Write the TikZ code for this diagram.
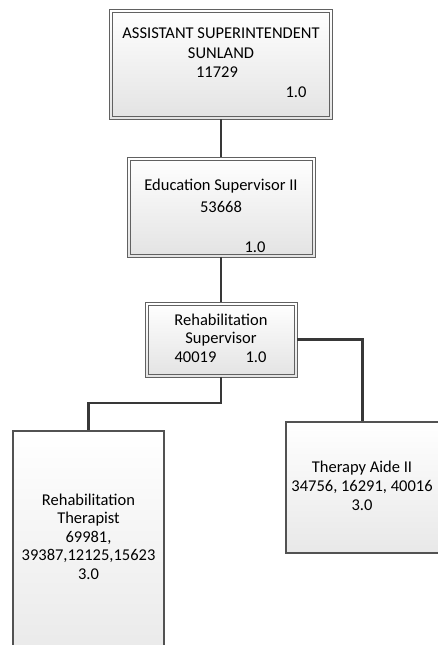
\documentclass[tikz,border=0pt]{standalone}
\usepackage{fontspec}
\setmainfont{Carlito}
\begin{document}
\begin{tikzpicture}[x=1pt,y=-1pt,
  boxfill/.style={top color=white, bottom color=black!11, draw=black!62, line width=0.9pt},
  innerline/.style={draw=black!62, line width=0.9pt},
  plainbox/.style={top color=white, bottom color=black!9, draw=black!68, line width=1.1pt},
  lbl/.style={anchor=base, inner sep=0pt, font=\fontsize{16.5}{19}\selectfont, text=black},
  wire/.style={draw=black!78, line width=2.4pt}]
\useasboundingbox (0,0) rectangle (437,645);

% box outlines (double frame for the upper three positions)
\node[boxfill, minimum width=223pt, minimum height=110pt, inner sep=0pt] (b1) at (221,64) {};
\draw[innerline] (112.5,12) rectangle (329.5,116);
\node[boxfill, minimum width=188pt, minimum height=100pt, inner sep=0pt] (b2) at (221,207) {};
\draw[innerline] (130,160) rectangle (312,254);
\node[boxfill, minimum width=152pt, minimum height=75pt, inner sep=0pt] (b3) at (221,339.5) {};
\draw[innerline] (148,305) rectangle (294,374);
\node[plainbox, minimum width=151pt, minimum height=240pt, inner sep=0pt] (b4) at (88.5,551) {};
\node[plainbox, minimum width=153pt, minimum height=131pt, inner sep=0pt] (b5) at (362.5,487.5) {};

% connectors
\coordinate (j1) at (221,403);
\coordinate (j2) at (88.5,403);
\draw[wire] (b1.south) -- (b2.north);
\draw[wire] (b2.south) -- (b3.north);
\draw[wire] (b3.south) -- (j1) -- (j2) -- (b4.north);
\draw[wire] (b3.east) -| (b5.north);

% texts
\node[lbl] (t1a) at (221,38) {ASSISTANT SUPERINTENDENT};
\node[lbl] (t1b) at (221,58) {SUNLAND};
\node[lbl] (t1c) at (217,77) {11729};
\node[lbl] (t1d) at (296,97) {1.0};

\node[lbl] (t2a) at (221,190) {Education Supervisor II};
\node[lbl] (t2b) at (221,212.5) {53668};
\node[lbl] (t2c) at (255,252.5) {1.0};

\node[lbl] (t3a) at (221,325) {Rehabilitation};
\node[lbl] (t3b) at (221,343.5) {Supervisor};
\node[lbl] (t3c) at (195.5,362.5) {40019};
\node[lbl] (t3d) at (256,362.5) {1.0};

\node[lbl] (t4a) at (88.5,505) {Rehabilitation};
\node[lbl] (t4b) at (88.5,523.5) {Therapist};
\node[lbl] (t4c) at (88.5,542) {69981,};
\node[lbl] (t4d) at (88.5,560.5) {39387,12125,15623};
\node[lbl] (t4e) at (88.5,579) {3.0};

\node[lbl] (t5a) at (362,472.5) {Therapy Aide II};
\node[lbl] (t5b) at (362,491.5) {34756, 16291, 40016};
\node[lbl] (t5c) at (362,510) {3.0};
\end{tikzpicture}
\end{document}
